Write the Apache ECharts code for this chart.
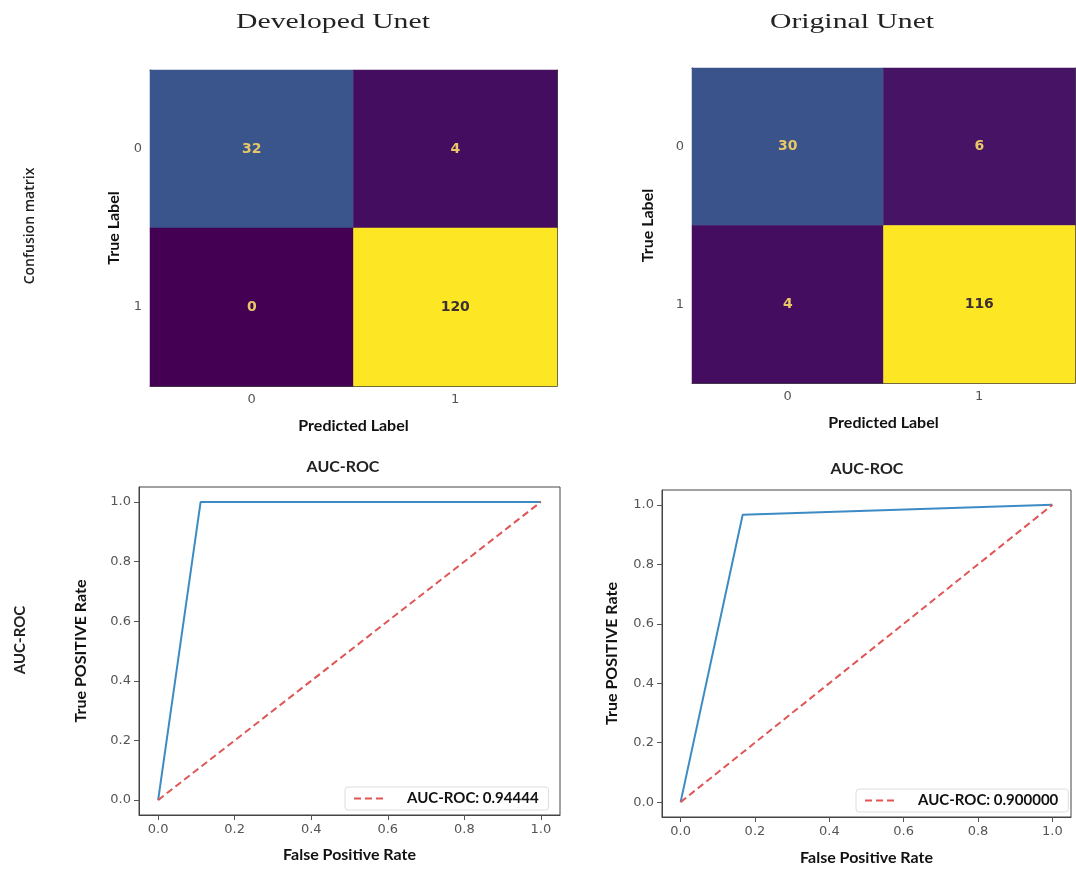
<!DOCTYPE html>
<html>
<head>
<meta charset="utf-8">
<title>Confusion matrix and AUC-ROC</title>
<style>
  html, body { margin: 0; padding: 0; background: #fff; }
  #main { width: 1076px; height: 877px; }
</style>
</head>
<body>
<div id="main"></div>
<script src="https://cdn.jsdelivr.net/npm/echarts@6/dist/echarts.min.js"></script>
<script>
// class labels of the confusion matrices
var classLabels = ['0', '1'];
// rows = true label, cols = predicted label
var devMatrix = [[32, 4], [0, 120]];
var origMatrix = [[30, 6], [4, 116]];

// roc curves
var devFpr = [0, 0.111, 1];
var devTpr = [0, 1, 1];
var origFpr = [0, 0.167, 1];
var origTpr = [0, 0.967, 1];
var chanceX = [0, 1];
var chanceY = [0, 1];
var rocTicks = [0, 0.2, 0.4, 0.6, 0.8, 1.0];

var devAuc = 'AUC-ROC: 0.94444';
var origAuc = 'AUC-ROC: 0.900000';

var viridis = ['#440154', '#482878', '#3e4989', '#31688e', '#26828e',
  '#1f9e89', '#35b779', '#6ece58', '#b5de2b', '#fde725'];

function cells(m) {
  var out = [];
  for (var r = 0; r < m.length; r++) {
    for (var c = 0; c < m[r].length; c++) out.push([c, r, m[r][c]]);
  }
  return out;
}
function pairs(xs, ys) {
  return xs.map(function (x, i) { return [x, ys[i]]; });
}
function maxOf(m) {
  return Math.max.apply(null, m.map(function (r) { return Math.max.apply(null, r); }));
}

var tickFont = { color: '#555', fontSize: 13, fontFamily: 'DejaVu Sans' };
var nameFont = { color: '#111', fontSize: 16, fontWeight: 'bold', fontFamily: 'Lato' };
var spine = { show: true, lineStyle: { color: '#444', width: 1 } };

function hmX(grid) {
  return [{
    type: 'category', gridIndex: grid, data: classLabels, position: 'bottom',
    axisLine: spine, axisTick: { alignWithLabel: true, length: 5, lineStyle: { color: '#555' } },
    axisLabel: Object.assign({ margin: 7 }, tickFont),
    name: 'Predicted Label', nameLocation: 'middle', nameGap: 32, nameTextStyle: nameFont,
    splitLine: { show: false }
  }, {
    type: 'category', gridIndex: grid, data: classLabels, position: 'top',
    axisLine: spine, axisTick: { show: false }, axisLabel: { show: false }
  }];
}
function hmY(grid, gap) {
  return [{
    type: 'category', gridIndex: grid, data: classLabels, inverse: true, position: 'left',
    axisLine: spine, axisTick: { alignWithLabel: true, length: 5, lineStyle: { color: '#555' } },
    axisLabel: Object.assign({ margin: 8 }, tickFont),
    name: 'True Label', nameLocation: 'middle', nameGap: gap, nameTextStyle: nameFont,
    splitLine: { show: false }
  }, {
    type: 'category', gridIndex: grid, data: classLabels, inverse: true, position: 'right',
    axisLine: spine, axisTick: { show: false }, axisLabel: { show: false }
  }];
}
function rocAxis(grid, name, gap) {
  return {
    type: 'value', gridIndex: grid, min: -0.05, max: 1.05,
    axisLine: { show: true, onZero: false, lineStyle: { color: '#444' } },
    axisTick: { show: true, length: 5, customValues: rocTicks, lineStyle: { color: '#555' } },
    axisLabel: Object.assign({ customValues: rocTicks, margin: 8,
      formatter: function (v) { return v.toFixed(1); } }, tickFont),
    splitLine: { show: false },
    name: name, nameLocation: 'middle', nameGap: gap, nameTextStyle: nameFont
  };
}
function hmSeries(m, axis) {
  var half = maxOf(m) / 2;
  return {
    type: 'heatmap', xAxisIndex: axis, yAxisIndex: axis, data: cells(m),
    label: {
      show: true,
      formatter: function (p) {
        return (p.value[2] > half ? '{lo|' : '{hi|') + p.value[2] + '}';
      },
      rich: {
        hi: { color: '#e7c766', fontSize: 14, fontWeight: 'bold', fontFamily: 'DejaVu Sans' },
        lo: { color: '#3a3030', fontSize: 14, fontWeight: 'bold', fontFamily: 'DejaVu Sans' }
      }
    },
    emphasis: { disabled: true }
  };
}
function curve(name, xs, ys, axis, color, dashed) {
  return {
    name: name, type: 'line', xAxisIndex: axis, yAxisIndex: axis,
    data: pairs(xs, ys), symbol: 'none', silent: true,
    lineStyle: { color: color, width: 2, type: dashed ? [7, 4] : 'solid' },
    itemStyle: { color: color }
  };
}
function legendBox(name, left, top) {
  return {
    data: [name], left: left, top: top, orient: 'horizontal',
    itemWidth: 32, itemHeight: 10, padding: [4, 10, 4, 8],
    itemStyle: { opacity: 0 },
    borderColor: '#ddd', borderWidth: 1, borderRadius: 3, backgroundColor: '#fff',
    textStyle: { color: '#111', fontSize: 15, fontWeight: 'bold', fontFamily: 'Lato',
      padding: [0, 0, 0, 16] },
    selectedMode: false
  };
}
function label(text, x, y, font, rot, sx) {
  return {
    type: 'text', x: x, y: y, rotation: rot || 0, scaleX: sx || 1,
    style: { text: text, font: font, fill: '#222', align: 'center', verticalAlign: 'middle',
      textAlign: 'center', textVerticalAlign: 'middle' }
  };
}

var chart = echarts.init(document.getElementById('main'));
chart.setOption({
  animation: false,
  grid: [
    { left: 150, top: 70, width: 407, height: 316 },
    { left: 692, top: 68, width: 383, height: 315 },
    { left: 139, top: 487, width: 421, height: 328, show: true, borderColor: '#444', borderWidth: 1 },
    { left: 662, top: 490, width: 409, height: 327, show: true, borderColor: '#444', borderWidth: 1 }
  ],
  xAxis: hmX(0).concat(hmX(1), [
    rocAxis(2, 'False Positive Rate', 32),
    rocAxis(3, 'False Positive Rate', 33)
  ]),
  yAxis: hmY(0, 28).concat(hmY(1, 36), [
    rocAxis(2, 'True POSITIVE Rate', 50),
    rocAxis(3, 'True POSITIVE Rate', 42)
  ]),
  visualMap: [
    { show: false, seriesIndex: 0, dimension: 2, min: 0, max: maxOf(devMatrix), inRange: { color: viridis } },
    { show: false, seriesIndex: 1, dimension: 2, min: 0, max: maxOf(origMatrix), inRange: { color: viridis } }
  ],
  legend: [
    legendBox(devAuc, 345, 787),
    legendBox(origAuc, 856, 789)
  ],
  series: [
    hmSeries(devMatrix, 0),
    hmSeries(origMatrix, 2),
    curve('devRoc', devFpr, devTpr, 4, '#3d8bc4', false),
    curve(devAuc, chanceX, chanceY, 4, '#e05555', true),
    curve('origRoc', origFpr, origTpr, 5, '#3d8bc4', false),
    curve(origAuc, chanceX, chanceY, 5, '#e05555', true)
  ],
  graphic: [
    label('Developed Unet', 333, 22, '22px "Liberation Serif"', 0, 1.35),
    label('Original Unet', 852, 22, '22px "Liberation Serif"', 0, 1.35),
    label('Confusion matrix', 30, 226, '600 14px "Open Sans"', Math.PI / 2),
    label('AUC-ROC', 20, 640, 'bold 15px Lato', Math.PI / 2),
    label('AUC-ROC', 343, 467, 'bold 16px Lato'),
    label('AUC-ROC', 867, 469, 'bold 16px Lato')
  ]
});
</script>
</body>
</html>
